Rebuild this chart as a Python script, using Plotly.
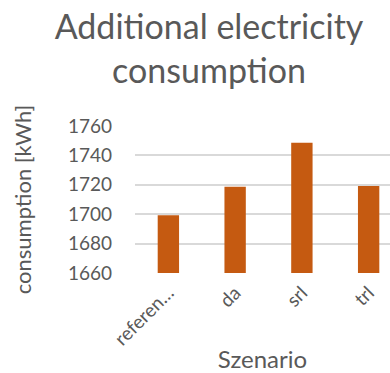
import plotly.graph_objects as go

categories = ["referen…", "da", "srl", "trl"]
values = [1699.3, 1718.6, 1748.6, 1719.2]
y_ticks = [1660, 1680, 1700, 1720, 1740, 1760]

FONT = "Lato"
GREY = "#595959"

fig = go.Figure(go.Bar(
    x=categories, y=values, width=0.32,
    marker=dict(color="#C55A11", line=dict(width=0)),
))

fig.update_layout(
    width=390, height=373,
    margin=dict(l=135, r=0, t=126, b=100),
    paper_bgcolor="white", plot_bgcolor="white",
    showlegend=False,
    font=dict(family=FONT, color=GREY),
    title=dict(
        text="Additional electricity<br>consumption",
        x=0.536, xanchor="center", y=0.895, yanchor="top",
        font=dict(family=FONT, size=34, color=GREY),
    ),
)
fig.update_xaxes(
    range=[-0.5, 3.32], tickangle=-45,
    tickfont=dict(family=FONT, size=19, color=GREY),
    title=dict(text="Szenario", font=dict(family=FONT, size=24, color=GREY), standoff=4),
    showline=False, showgrid=False, ticks="", ticklabelstandoff=4,
)
fig.update_yaxes(
    range=[1660, 1760], tickvals=y_ticks,
    tickfont=dict(family=FONT, size=19, color=GREY),
    title=dict(text="consumption [kWh]", font=dict(family=FONT, size=22, color=GREY), standoff=30),
    showgrid=True, gridcolor="#D9D9D9", gridwidth=1.5,
    zeroline=False, showline=False, ticks="", ticklabelstandoff=22,
)

fig.write_html("out.html")
